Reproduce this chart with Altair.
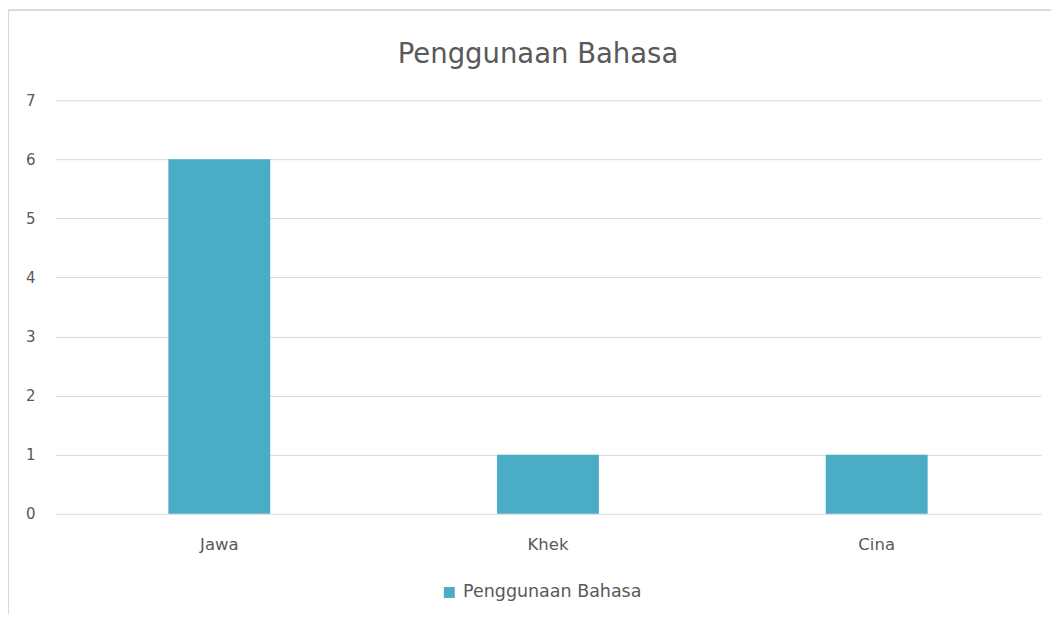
import altair as alt
import pandas as pd

categories = ["Jawa", "Khek", "Cina"]
values = [6, 1, 1]
series_name = "Penggunaan Bahasa"

df = pd.DataFrame({"bahasa": categories, "jumlah": values, "seri": [series_name] * len(categories)})

FONT = "DejaVu Sans"
TEXT = "#595959"

bars = alt.Chart(df).mark_bar(width=alt.RelativeBandSize(0.31)).encode(
    x=alt.X("bahasa:N", sort=categories, title=None,
            scale=alt.Scale(paddingInner=0, paddingOuter=0),
            axis=alt.Axis(labelAngle=0, domain=False, ticks=False, labelPadding=23,
                          labelFontSize=16.5, labelColor=TEXT, labelFont=FONT, grid=False)),
    y=alt.Y("jumlah:Q", title=None,
            scale=alt.Scale(domain=[0, 7], nice=False),
            axis=alt.Axis(values=list(range(0, 8)), domain=False, ticks=False, labelPadding=20,
                          labelFontSize=15, labelColor=TEXT, labelFont=FONT,
                          grid=True, gridColor="#d9d9d9", gridWidth=1)),
    color=alt.Color("seri:N", scale=alt.Scale(range=["#4BACC6"]),
                    legend=alt.Legend(title=None, orient="none", legendX=386, legendY=484,
                                      symbolType="square", symbolSize=120, symbolStrokeWidth=0,
                                      labelFontSize=17.5, labelColor=TEXT, labelFont=FONT,
                                      labelOffset=5, labelLimit=0)),
)

border = alt.Chart(df).mark_rect(fillOpacity=0, stroke="#d9d9d9", strokeWidth=1.5).encode(
    x=alt.value(-47), x2=alt.value(1010), y=alt.value(-90), y2=alt.value(520)
)

chart = alt.layer(border, bars).properties(
    width=987, height=414,
    autosize=alt.AutoSizeParams(type="none"),
    padding={"left": 47, "top": 92, "right": 10, "bottom": 100},
    title=alt.TitleParams(series_name, fontSize=27.5, font=FONT, color=TEXT, fontWeight="normal",
                          anchor="middle", dx=-10, offset=0, dy=59),
).configure_view(stroke=None)

chart.save("out.html", embed_options={"renderer": "svg", "actions": False})
